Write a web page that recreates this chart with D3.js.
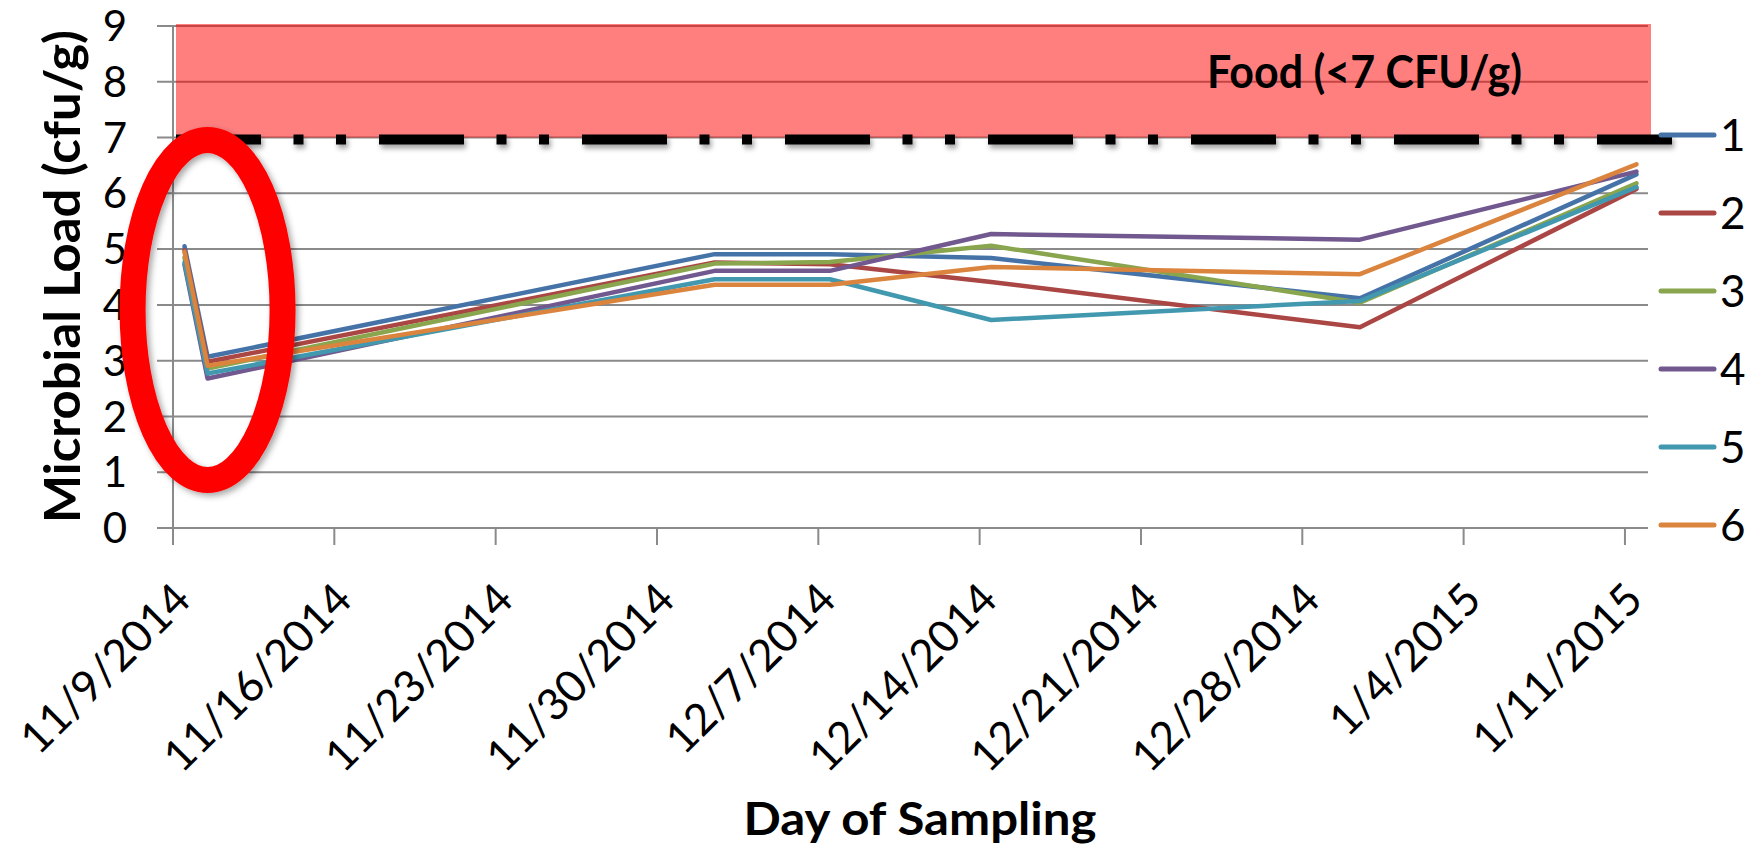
<!DOCTYPE html>
<html>
<head>
<meta charset="utf-8">
<script src="https://cdn.jsdelivr.net/npm/d3@7"></script>
<style>
  html, body { margin: 0; padding: 0; background: #fff; }
  svg { display: block; font-family: Lato, Carlito, Calibri, sans-serif; }
</style>
</head>
<body>
<svg id="chart" width="1751" height="852"></svg>
<script>
// ---------- data ----------
const seriesNames = ["1", "2", "3", "4", "5", "6"];
const seriesColors = ["#4572A7", "#AA4643", "#89A54E", "#71588F", "#4198AF", "#DB843D"];
const sampleDates = ["2014-11-09", "2014-11-10", "2014-12-02", "2014-12-07", "2014-12-14", "2014-12-30", "2015-01-11"];
const series1 = [5.05, 3.07, 4.91, 4.91, 4.84, 4.12, 6.34];
const series2 = [4.98, 2.98, 4.76, 4.73, 4.41, 3.60, 6.08];
const series3 = [4.85, 2.86, 4.74, 4.77, 5.06, 4.04, 6.18];
const series4 = [4.72, 2.68, 4.61, 4.61, 5.27, 5.17, 6.39];
const series5 = [4.76, 2.77, 4.46, 4.46, 3.73, 4.07, 6.11];
const series6 = [4.95, 2.91, 4.36, 4.36, 4.68, 4.55, 6.52];
const tickDates = ["2014-11-09", "2014-11-16", "2014-11-23", "2014-11-30", "2014-12-07", "2014-12-14", "2014-12-21", "2014-12-28", "2015-01-04", "2015-01-11"];
const tickLabels = ["11/9/2014", "11/16/2014", "11/23/2014", "11/30/2014", "12/7/2014", "12/14/2014", "12/21/2014", "12/28/2014", "1/4/2015", "1/11/2015"];
const yTicks = [0, 1, 2, 3, 4, 5, 6, 7, 8, 9];
const foodLimit = 7;
const foodTop = 9;
const foodLabel = "Food (<7 CFU/g)";
const yTitle = "Microbial Load (cfu/g)";
const xTitle = "Day of Sampling";

const allSeries = [series1, series2, series3, series4, series5, series6];

// ---------- setup ----------
const svg = d3.select("#chart");
const parse = d3.timeParse("%Y-%m-%d");
const plotLeft = 173, plotRight = 1648, plotTop = 26, plotBottom = 528;

const x = d3.scaleTime()
  .domain([parse("2014-11-09"), parse("2015-01-12")])
  .range([plotLeft, plotRight]);
const y = d3.scaleLinear().domain([0, 9]).range([plotBottom, plotTop]);
// Excel date axis: points sit in the middle of their day
const xDay = s => x(d3.timeHour.offset(parse(s), 12));

const defs = svg.append("defs");
const f = defs.append("filter").attr("id", "shadow")
  .attr("filterUnits", "userSpaceOnUse")
  .attr("x", 0).attr("y", 0).attr("width", 1751).attr("height", 852);
f.append("feDropShadow").attr("dx", 2).attr("dy", 4).attr("stdDeviation", 2.5)
  .attr("flood-color", "#000").attr("flood-opacity", 0.35);
const f2 = defs.append("filter").attr("id", "shadow2")
  .attr("filterUnits", "userSpaceOnUse")
  .attr("x", 0).attr("y", 0).attr("width", 1751).attr("height", 852);
f2.append("feDropShadow").attr("dx", 3).attr("dy", 3).attr("stdDeviation", 3)
  .attr("flood-color", "#000").attr("flood-opacity", 0.35);

// ---------- gridlines ----------
const gridColor = "#8a8a8a";
svg.append("g").selectAll("line").data(yTicks).join("line")
  .attr("x1", plotLeft - 16).attr("x2", plotRight)
  .attr("y1", d => y(d)).attr("y2", d => y(d))
  .attr("stroke", gridColor).attr("stroke-width", 2);

// y axis line
svg.append("line").attr("x1", plotLeft).attr("x2", plotLeft)
  .attr("y1", y(foodTop)).attr("y2", plotBottom + 17)
  .attr("stroke", gridColor).attr("stroke-width", 2);

// x ticks
svg.append("g").selectAll("line").data(tickDates).join("line")
  .attr("x1", d => x(parse(d))).attr("x2", d => x(parse(d)))
  .attr("y1", plotBottom).attr("y2", plotBottom + 17)
  .attr("stroke", gridColor).attr("stroke-width", 2);

// ---------- food zone ----------
svg.append("rect")
  .attr("x", plotLeft + 3).attr("y", y(foodTop) - 2)
  .attr("width", plotRight + 3 - (plotLeft + 3))
  .attr("height", y(foodLimit) - y(foodTop) + 2)
  .attr("fill", "#FF0000").attr("fill-opacity", 0.5);

svg.append("text")
  .attr("x", 1207).attr("y", 88)
  .attr("font-weight", "bold").attr("font-size", 46)
  .attr("textLength", 315).attr("lengthAdjust", "spacingAndGlyphs")
  .attr("fill", "#000")
  .text(foodLabel);

svg.append("path")
  .attr("d", `M${plotLeft + 3},${y(foodLimit) + 2}H1672`)
  .attr("fill", "none")
  .attr("stroke", "#000").attr("stroke-width", 10)
  .attr("stroke-dasharray", "85,32.5,10,32.5,10,33")
  .attr("filter", "url(#shadow)");

// ---------- axis labels ----------
svg.append("g").selectAll("text").data(yTicks).join("text")
  .attr("x", 127).attr("y", d => y(d)).attr("dy", "0.36em")
  .attr("text-anchor", "end").attr("font-size", 42).attr("fill", "#000")
  .text(d => d);

svg.append("g").selectAll("text").data(tickDates).join("text")
  .attr("transform", d => `translate(${x(parse(d)) + 20},${plotBottom + 74}) rotate(-45)`)
  .attr("text-anchor", "end").attr("font-size", 44).attr("fill", "#000")
  .text((d, i) => tickLabels[i]);

svg.append("text")
  .attr("transform", `translate(80,${(30 + 523) / 2}) rotate(-90)`)
  .attr("text-anchor", "middle").attr("font-weight", "bold").attr("font-size", 50)
  .attr("textLength", 493).attr("lengthAdjust", "spacingAndGlyphs")
  .attr("fill", "#000")
  .text(yTitle);

svg.append("text")
  .attr("x", 920).attr("y", 835)
  .attr("text-anchor", "middle").attr("font-weight", "bold").attr("font-size", 46)
  .attr("textLength", 353).attr("lengthAdjust", "spacingAndGlyphs")
  .attr("fill", "#000")
  .text(xTitle);

// ---------- series lines ----------
const line = d3.line()
  .x((d, i) => xDay(sampleDates[i]))
  .y(d => y(d));

svg.append("g").selectAll("path").data(allSeries).join("path")
  .attr("d", d => line(d))
  .attr("fill", "none")
  .attr("stroke", (d, i) => seriesColors[i])
  .attr("stroke-width", 4.5)
  .attr("stroke-linejoin", "round")
  .attr("stroke-linecap", "round");

// ---------- legend ----------
const lg = svg.append("g").selectAll("g").data(seriesNames).join("g")
  .attr("transform", (d, i) => `translate(0,${135 + i * 78})`);
lg.append("line").attr("x1", 1661).attr("x2", 1714).attr("y1", 0).attr("y2", 0)
  .attr("stroke", (d, i) => seriesColors[i]).attr("stroke-width", 5)
  .attr("stroke-linecap", "round");
lg.append("text").attr("x", 1720).attr("y", 0).attr("dy", "0.36em")
  .attr("font-size", 44).attr("fill", "#000").text(d => d);

// ---------- highlight ellipse ----------
svg.append("ellipse")
  .attr("cx", xDay("2014-11-10")).attr("cy", 310)
  .attr("rx", 75).attr("ry", 170)
  .attr("fill", "none").attr("stroke", "#FF0000").attr("stroke-width", 26)
  .attr("filter", "url(#shadow2)");
</script>
</body>
</html>
